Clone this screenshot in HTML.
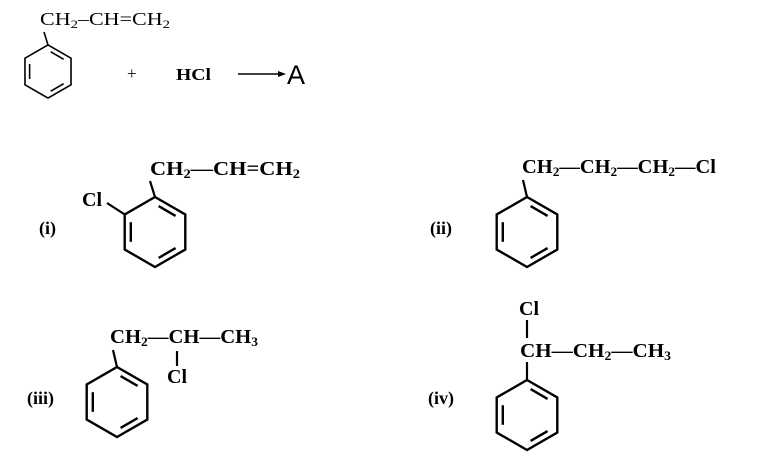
<!DOCTYPE html>
<html><head><meta charset="utf-8"><style>
html,body{margin:0;padding:0;background:#fff;}
svg{display:block;}
text{font-family:"Liberation Serif",serif;fill:#000;}
.b{font-weight:bold;}
</style></head><body>
<svg width="765" height="472" viewBox="0 0 765 472" xmlns="http://www.w3.org/2000/svg">
<defs>
<g id="bz" fill="none" stroke="#000">
<polygon points="0,-35 30.3,-17.5 30.3,17.5 0,35 -30.3,17.5 -30.3,-17.5" vector-effect="non-scaling-stroke"/>
<line x1="3.6" y1="-25.9" x2="20.6" y2="-16.1" vector-effect="non-scaling-stroke"/>
<line x1="20.6" y1="16.1" x2="3.6" y2="25.9" vector-effect="non-scaling-stroke"/>
<line x1="-24.2" y1="9.8" x2="-24.2" y2="-9.8" vector-effect="non-scaling-stroke"/>
</g>
</defs>
<g stroke="#000" fill="none">
<use href="#bz" transform="translate(48,71.5) scale(0.76)" stroke-width="1.6"/>
<line x1="48" y1="45" x2="44" y2="32" stroke-width="1.6"/>
<line x1="238" y1="74" x2="280" y2="74" stroke-width="1.4"/>
<use href="#bz" transform="translate(155,232)" stroke-width="2.4"/>
<line x1="155" y1="197" x2="150" y2="181" stroke-width="2.2"/>
<line x1="124" y1="214" x2="107" y2="203" stroke-width="2.2"/>
<use href="#bz" transform="translate(527,232)" stroke-width="2.4"/>
<line x1="527" y1="197" x2="523" y2="180" stroke-width="2.2"/>
<use href="#bz" transform="translate(117,402)" stroke-width="2.4"/>
<line x1="117" y1="367" x2="113" y2="350" stroke-width="2.2"/>
<line x1="177" y1="351" x2="177" y2="366" stroke-width="2.2"/>
<use href="#bz" transform="translate(527,415)" stroke-width="2.4"/>
<line x1="527" y1="320" x2="527" y2="338" stroke-width="2.2"/>
<line x1="527" y1="362" x2="527" y2="380" stroke-width="2.2"/>
</g>
<polygon points="278,71 286,74 278,77" fill="#000"/>
<text x="40" y="25" font-size="18" textLength="130" lengthAdjust="spacingAndGlyphs">CH<tspan font-size="12" dy="3">2</tspan><tspan dy="-3">–CH=CH</tspan><tspan font-size="12" dy="3">2</tspan></text>
<text x="127" y="79" font-size="17">+</text>
<text x="176" y="80" font-size="17" textLength="35" lengthAdjust="spacingAndGlyphs" style="font-weight:bold">HCl</text>
<text x="287" y="84" font-size="27" style="font-family:'Liberation Sans',sans-serif">A</text>
<text class="b" x="39" y="234" font-size="18">(i)</text>
<text class="b" x="82" y="206" font-size="20">Cl</text>
<text class="b" x="150" y="175" font-size="20" textLength="150" lengthAdjust="spacingAndGlyphs">CH<tspan font-size="13" dy="3">2</tspan><tspan dy="-3">—CH=CH</tspan><tspan font-size="13" dy="3">2</tspan></text>
<text class="b" x="430" y="234" font-size="18">(ii)</text>
<text class="b" x="522" y="173" font-size="20" textLength="194" lengthAdjust="spacingAndGlyphs">CH<tspan font-size="13" dy="3">2</tspan><tspan dy="-3">—CH</tspan><tspan font-size="13" dy="3">2</tspan><tspan dy="-3">—CH</tspan><tspan font-size="13" dy="3">2</tspan><tspan dy="-3">—Cl</tspan></text>
<text class="b" x="27" y="404" font-size="18">(iii)</text>
<text class="b" x="110" y="343" font-size="20" textLength="148" lengthAdjust="spacingAndGlyphs">CH<tspan font-size="13" dy="3">2</tspan><tspan dy="-3">—CH—CH</tspan><tspan font-size="13" dy="3">3</tspan></text>
<text class="b" x="167" y="383" font-size="20">Cl</text>
<text class="b" x="428" y="404" font-size="18">(iv)</text>
<text class="b" x="519" y="315" font-size="20">Cl</text>
<text class="b" x="520" y="357" font-size="20" textLength="151" lengthAdjust="spacingAndGlyphs">CH—CH<tspan font-size="13" dy="3">2</tspan><tspan dy="-3">—CH</tspan><tspan font-size="13" dy="3">3</tspan></text>
</svg>
</body></html>
